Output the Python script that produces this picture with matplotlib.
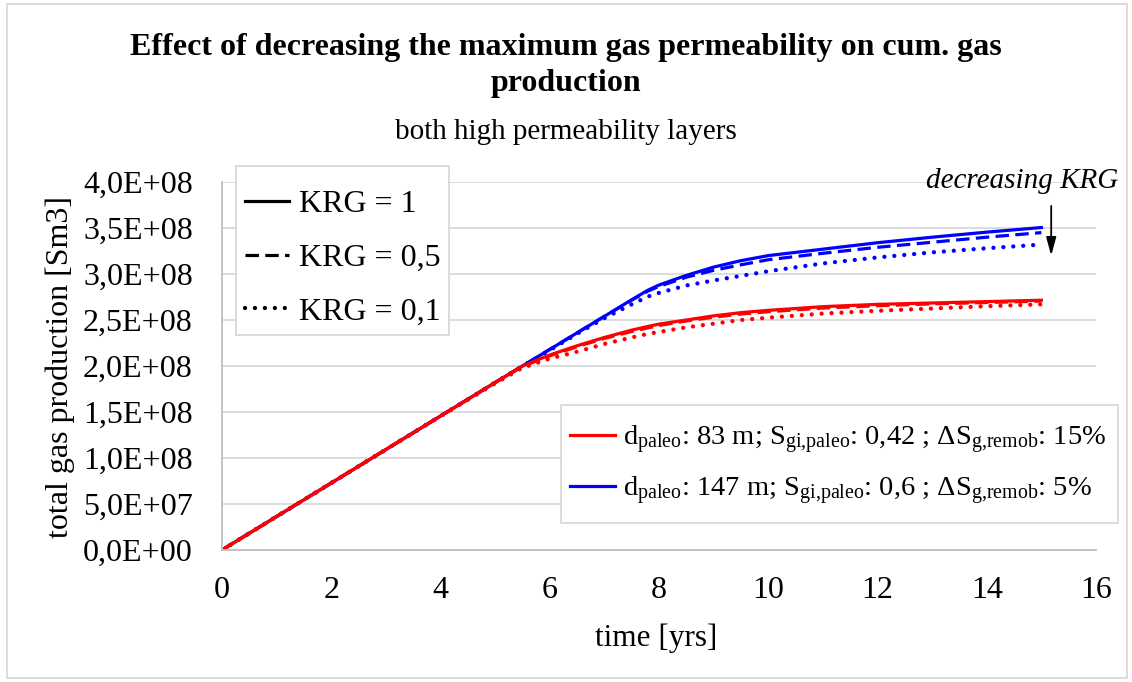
import matplotlib
matplotlib.use("Agg")
import matplotlib.pyplot as plt
from matplotlib.lines import Line2D
from matplotlib.patches import Rectangle
from matplotlib.ticker import FuncFormatter, MultipleLocator

plt.rcParams['font.family'] = ['Liberation Serif', 'DejaVu Serif']
plt.rcParams['mathtext.fontset'] = 'custom'
plt.rcParams['mathtext.rm'] = 'Liberation Serif'
plt.rcParams['mathtext.it'] = 'Liberation Serif:italic'

# time axis [yrs]
time = [0, 1, 2, 3, 4, 5, 5.5, 6, 6.5, 7, 7.5, 7.8, 8, 8.5, 9, 9.5, 10, 11, 12, 13, 14, 15]

# cumulative gas production [1E8 Sm3]
blue_krg1 = [0, 0.364, 0.728, 1.092, 1.456, 1.82, 2.00, 2.18, 2.36, 2.54, 2.72, 2.825,
             2.88, 2.985, 3.075, 3.145, 3.20, 3.27, 3.34, 3.40, 3.455, 3.505]
blue_krg05 = [0, 0.364, 0.728, 1.092, 1.456, 1.82, 2.00, 2.18, 2.36, 2.54, 2.715, 2.815,
              2.865, 2.965, 3.04, 3.10, 3.155, 3.225, 3.29, 3.345, 3.40, 3.45]
blue_krg01 = [0, 0.364, 0.728, 1.092, 1.456, 1.82, 2.00, 2.17, 2.35, 2.52, 2.67, 2.755,
              2.795, 2.875, 2.93, 2.98, 3.03, 3.115, 3.18, 3.235, 3.28, 3.32]
red_krg1 = [0, 0.364, 0.728, 1.092, 1.456, 1.82, 2.00, 2.12, 2.22, 2.31, 2.39, 2.43,
            2.455, 2.50, 2.545, 2.58, 2.605, 2.645, 2.67, 2.685, 2.70, 2.715]
red_krg05 = [0, 0.364, 0.728, 1.092, 1.456, 1.82, 1.995, 2.11, 2.21, 2.30, 2.375, 2.415,
             2.44, 2.49, 2.53, 2.565, 2.59, 2.63, 2.655, 2.675, 2.69, 2.705]
red_krg01 = [0, 0.364, 0.728, 1.092, 1.456, 1.81, 1.98, 2.08, 2.155, 2.24, 2.31, 2.35,
             2.37, 2.42, 2.46, 2.50, 2.525, 2.57, 2.60, 2.625, 2.65, 2.67]

krg_labels = ['KRG = 1', 'KRG = 0,5', 'KRG = 0,1']
case_labels = [r'd$_{\mathrm{paleo}}$: 83 m; S$_{\mathrm{gi{,}paleo}}$: 0,42 ; $\Delta$S$_{\mathrm{g{,}remob}}$: 15%',
               r'd$_{\mathrm{paleo}}$: 147 m; S$_{\mathrm{gi{,}paleo}}$: 0,6 ; $\Delta$S$_{\mathrm{g{,}remob}}$: 5%']

RED = '#ff0000'
BLUE = '#0000ff'
GRID = '#d9d9d9'
SCALE = 1e8
W, H = 1132, 682
LW = 2.3

styles = [dict(linestyle='-', lw=LW),
          dict(linestyle=(0, (4.2, 2.0)), lw=LW),
          dict(linestyle=(0, (0.01, 2.3)), dash_capstyle='round', lw=3.1)]

fig = plt.figure(figsize=(W / 100, H / 100), dpi=100)
ax = fig.add_axes([222 / W, 1 - 550 / H, 874 / W, 368 / H])

for series, st in zip([blue_krg1, blue_krg05, blue_krg01], styles):
    ax.plot(time, [v * SCALE for v in series], color=BLUE, **st)
for series, st in zip([red_krg1, red_krg05, red_krg01], styles):
    ax.plot(time, [v * SCALE for v in series], color=RED, **st)

ax.set_xlim(0, 16)
ax.set_ylim(0, 4e8)
ax.xaxis.set_major_locator(MultipleLocator(2))
ax.yaxis.set_major_locator(MultipleLocator(0.5e8))


def sci_comma(v, pos):
    if v == 0:
        return '0,0E+00'
    return ('%.1E' % v).replace('.', ',')


ax.yaxis.set_major_formatter(FuncFormatter(sci_comma))
ax.tick_params(axis='both', length=0, labelsize=23, colors='black')
ax.tick_params(axis='x', pad=19)
ax.tick_params(axis='y', pad=21)
ax.grid(axis='y', color=GRID, lw=1.3)
ax.set_axisbelow(True)
for side in ['top', 'right']:
    ax.spines[side].set_visible(False)
for side in ['left', 'bottom']:
    ax.spines[side].set_color('#bfbfbf')
    ax.spines[side].set_linewidth(1.3)

# axis titles
fig.text(656 / W, 1 - 638 / H, 'time [yrs]', ha='center', va='center', fontsize=22.5)
fig.text(60 / W, 1 - 367 / H, 'total gas production [Sm3]', ha='center', va='center',
         rotation=90, fontsize=23)

# chart title and subtitle
fig.text(0.5, 1 - 55 / H, 'Effect of decreasing the maximum gas permeability on cum. gas',
         ha='center', va='baseline', fontsize=23, fontweight='bold')
fig.text(0.5, 1 - 91 / H, 'production', ha='center', va='baseline', fontsize=23, fontweight='bold')
fig.text(0.5, 1 - 139 / H, 'both high permeability layers', ha='center', va='baseline', fontsize=21)

# legend boxes
for x0, y0, x1, y1 in [(236, 166, 449, 335), (561, 405, 1118, 523)]:
    fig.patches.append(Rectangle((x0 / W, 1 - y1 / H), (x1 - x0) / W, (y1 - y0) / H,
                                 transform=fig.transFigure, facecolor='white',
                                 edgecolor=GRID, lw=1.3, zorder=1))

# KRG legend (line style)
krg_handles = [Line2D([], [], color='black', **st) for st in styles]
fig.legend(krg_handles, krg_labels, loc='center left',
           bbox_to_anchor=(245 / W, 1 - 258 / H), borderaxespad=0, borderpad=0, fontsize=23,
           frameon=False, handlelength=1.38, handletextpad=0.31, labelspacing=0.77)

# case legend (colour)
case_handles = [Line2D([], [], color=RED, lw=LW), Line2D([], [], color=BLUE, lw=LW)]
fig.legend(case_handles, case_labels, loc='center left',
           bbox_to_anchor=(570 / W, 1 - 465 / H), borderaxespad=0, borderpad=0, fontsize=20.5,
           frameon=False, handlelength=1.58, handletextpad=0.28, labelspacing=0.65)

# trend annotation
ax.annotate('', xy=(15.18, 3.17e8), xytext=(15.18, 3.77e8),
            arrowprops=dict(arrowstyle='-|>,head_width=0.3,head_length=1.1', color='black', lw=1.3))
ax.text(16.4, 4.01e8, 'decreasing KRG', ha='right', va='center', fontsize=21, style='italic')

# outer chart frame
fig.patches.append(Rectangle((7 / W, 4 / H), 1120 / W, 674 / H, transform=fig.transFigure,
                             fill=False, edgecolor=GRID, lw=1.3))

fig.savefig('out.png', dpi=100)
